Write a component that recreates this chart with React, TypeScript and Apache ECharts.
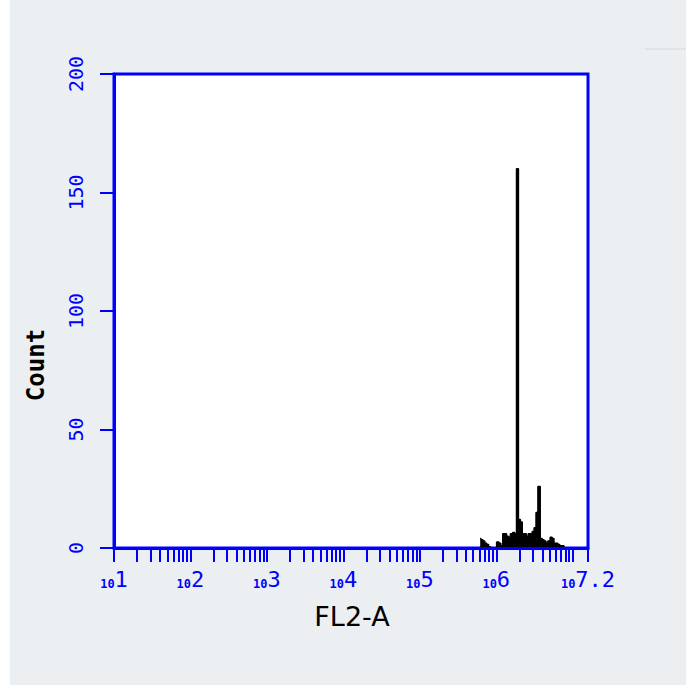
import React, { useEffect, useRef } from "react";
import * as echarts from "echarts";

// Histogram bins: position in log10(FL2-A) and count
const binPos = [
  5.79, 5.81, 5.84, 5.86, 5.89, 5.91, 5.94, 5.97, 5.99, 6.02, 6.05, 6.07, 6.1,
  6.12, 6.15, 6.17, 6.2, 6.23, 6.25, 6.28, 6.3, 6.33, 6.35, 6.38, 6.41, 6.43,
  6.46, 6.48, 6.51, 6.53, 6.56, 6.59, 6.61, 6.64, 6.66, 6.69, 6.72, 6.74, 6.77,
  6.79, 6.82, 6.84, 6.87, 6.9,
];
const binCounts = [
  4, 3.5, 3, 2, 1.5, 0.5, 0, 0, 0, 2.5, 2, 1, 6, 6, 5, 4.5, 6, 6.5, 6, 160, 12,
  11, 6, 6, 5, 6, 6, 7, 8.5, 15, 26, 4, 3.5, 3, 2, 3, 4.5, 4, 2, 2, 1.5, 1, 1, 0,
];

// x axis: decades (log10) and their exponent labels
const xLabelPos = [1, 2, 3, 4, 5, 6, 7.2];
const xLabelExp = ["1", "2", "3", "4", "5", "6", "7.2"];
const yTicks = [0, 50, 100, 150, 200];

const BLUE = "#0000FF";

export default function App() {
  const ref = useRef<HTMLDivElement>(null);
  useEffect(() => {
    if (!ref.current) return;
    const chart = echarts.init(ref.current, null, { renderer: "svg" });
    const minorTicks: number[] = [];
    for (let d = 1; d <= 6; d++) {
      for (let m = 1; m <= 9; m++) minorTicks.push(Math.log10(m * Math.pow(10, d)));
    }
    minorTicks.push(7, 7.2);
    const data = binPos.map((p, i) => [p, binCounts[i]]);
    chart.setOption({
      animation: false,
      backgroundColor: "#EBEFF2",
      grid: {
        left: 114,
        top: 74,
        width: 474,
        height: 474,
        show: true,
        backgroundColor: "#FFFFFF",
        borderColor: BLUE,
        borderWidth: 3,
      },
      xAxis: {
        type: "value",
        min: 1,
        max: 7.2,
        z: 5,
        axisLine: { show: true, lineStyle: { color: BLUE, width: 3 } },
        axisTick: {
          show: true,
          length: 14,
          customValues: minorTicks,
          lineStyle: { color: BLUE, width: 2 },
        },
        splitLine: { show: false },
        axisLabel: {
          customValues: xLabelPos,
          margin: 20,
          formatter: (v: number) => {
            const i = xLabelPos.indexOf(v);
            return `{a|10}{b|${i >= 0 ? xLabelExp[i] : ""}}`;
          },
          rich: {
            a: {
              fontFamily: "DejaVu Sans Mono",
              fontSize: 12,
              fontWeight: "bold",
              color: BLUE,
              verticalAlign: "bottom",
            },
            b: {
              fontFamily: "DejaVu Sans Mono",
              fontSize: 22,
              color: BLUE,
              verticalAlign: "bottom",
            },
          },
        },
      },
      yAxis: {
        type: "value",
        min: 0,
        max: 200,
        interval: 50,
        z: 5,
        axisLine: { show: true, lineStyle: { color: BLUE, width: 3 } },
        axisTick: { show: true, length: 14, lineStyle: { color: BLUE, width: 2 } },
        splitLine: { show: false },
        axisLabel: {
          rotate: 90,
          margin: 28,
          color: BLUE,
          fontFamily: "DejaVu Sans Mono",
          fontSize: 20,
          customValues: yTicks,
        },
      },
      series: [
        {
          type: "line",
          step: "middle",
          data,
          showSymbol: false,
          lineStyle: { color: "#000000", width: 1.5 },
          areaStyle: { color: "#000000", opacity: 1 },
          z: 3,
        },
      ],
      graphic: [
        { type: "rect", shape: { x: 0, y: 0, width: 10, height: 688 }, style: { fill: "#FFFFFF" }, silent: true },
        { type: "rect", shape: { x: 0, y: 685, width: 686, height: 3 }, style: { fill: "#FFFFFF" }, silent: true },
        { type: "rect", shape: { x: 645, y: 48, width: 41, height: 2 }, style: { fill: "#DEE3E8" }, silent: true },
        {
          type: "text",
          x: 36,
          y: 365,
          rotation: Math.PI / 2,
          style: {
            text: "Count",
            fontFamily: "DejaVu Sans Mono",
            fontWeight: "bold",
            fontSize: 24,
            fill: "#000000",
            textAlign: "center",
            textVerticalAlign: "middle",
          },
        },
        {
          type: "text",
          x: 352,
          y: 616,
          style: {
            text: "FL2-A",
            fontFamily: "DejaVu Sans",
            fontSize: 27,
            fill: "#000000",
            textAlign: "center",
            textVerticalAlign: "middle",
          },
        },
      ],
    });
    return () => chart.dispose();
  }, []);
  return (
    <div
      ref={ref}
      style={{ position: "absolute", left: 0, top: 0, width: 686, height: 688 }}
    />
  );
}
